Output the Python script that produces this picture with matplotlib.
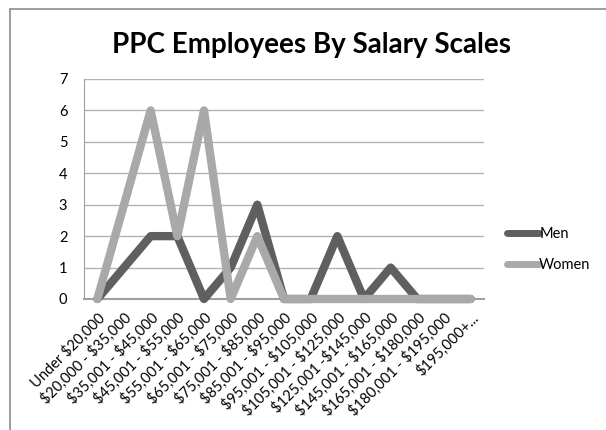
import matplotlib
matplotlib.use("Agg")
import matplotlib.pyplot as plt
from matplotlib.patches import Rectangle

categories = ["Under $20,000", "$20,000 - $35,000", "$35,001 - $45,000", "$45,001 - $55,000",
              "$55,001 - $65,000", "$65,001 - $75,000", "$75,001 - $85,000", "$85,001 - $95,000",
              "$95,001 - $105,000", "$105,001 - $125,000", "$125,001 -$145,000", "$145,001 - $165,000",
              "$165,001 - $180,000", "$180,001 - $195,000", "$195,000+..."]
men = [0, 1, 2, 2, 0, 1, 3, 0, 0, 2, 0, 1, 0, 0, 0]
women = [0, 3, 6, 2, 6, 0, 2, 0, 0, 0, 0, 0, 0, 0, 0]
yticks = [0, 1, 2, 3, 4, 5, 6, 7]

plt.rcParams['font.family'] = ['Lato', 'DejaVu Sans']
plt.rcParams['text.parse_math'] = False

W, H = 606, 430
fig = plt.figure(figsize=(W/100, H/100), dpi=100)
fig.patches.append(Rectangle((10/W, -0.1), 1.2, 1.1 - 9/H, transform=fig.transFigure,
                             fill=False, edgecolor='#8c8c8c', linewidth=1.2))

ax = fig.add_axes([84/W, 1 - 299/H, 400/W, 220/H])
x = list(range(len(categories)))
ax.plot(x, men, color='#5f5f5f', linewidth=6, solid_capstyle='round', solid_joinstyle='round',
        clip_on=False, zorder=3, label='Men')
ax.plot(x, women, color='#a9a9a9', linewidth=6, solid_capstyle='round', solid_joinstyle='round',
        clip_on=False, zorder=4, label='Women')

ax.set_xlim(-0.5, len(categories) - 0.5)
ax.set_ylim(0, 7)
ax.set_yticks(yticks)
ax.set_yticklabels([str(v) for v in yticks], fontsize=10.5)
ax.yaxis.grid(True, color='#b3b3b3', linewidth=1)
ax.set_axisbelow(True)
ax.set_xticks(x)
ax.set_xticklabels(categories, rotation=45, ha='right', rotation_mode='anchor', fontsize=10.5)
ax.tick_params(axis='x', length=0, pad=8)
ax.tick_params(axis='y', length=0, pad=12)
for s in ['top', 'right']:
    ax.spines[s].set_visible(False)
ax.spines['left'].set_color('#a0a0a0')
ax.spines['bottom'].set_color('#a0a0a0')
ax.spines['bottom'].set_linewidth(1.5)

fig.text(312/W, 1 - 45/H, "PPC Employees By Salary Scales", ha='center', va='center',
         fontsize=20, fontweight='bold')

leg = ax.legend(loc='center left', bbox_to_anchor=(1.025, 0.225), frameon=False, fontsize=10.5,
                handlelength=2.2, handletextpad=0.0, labelspacing=1.16)
for l in leg.get_lines():
    l.set_linewidth(5)

fig.savefig("out.png", dpi=100)
